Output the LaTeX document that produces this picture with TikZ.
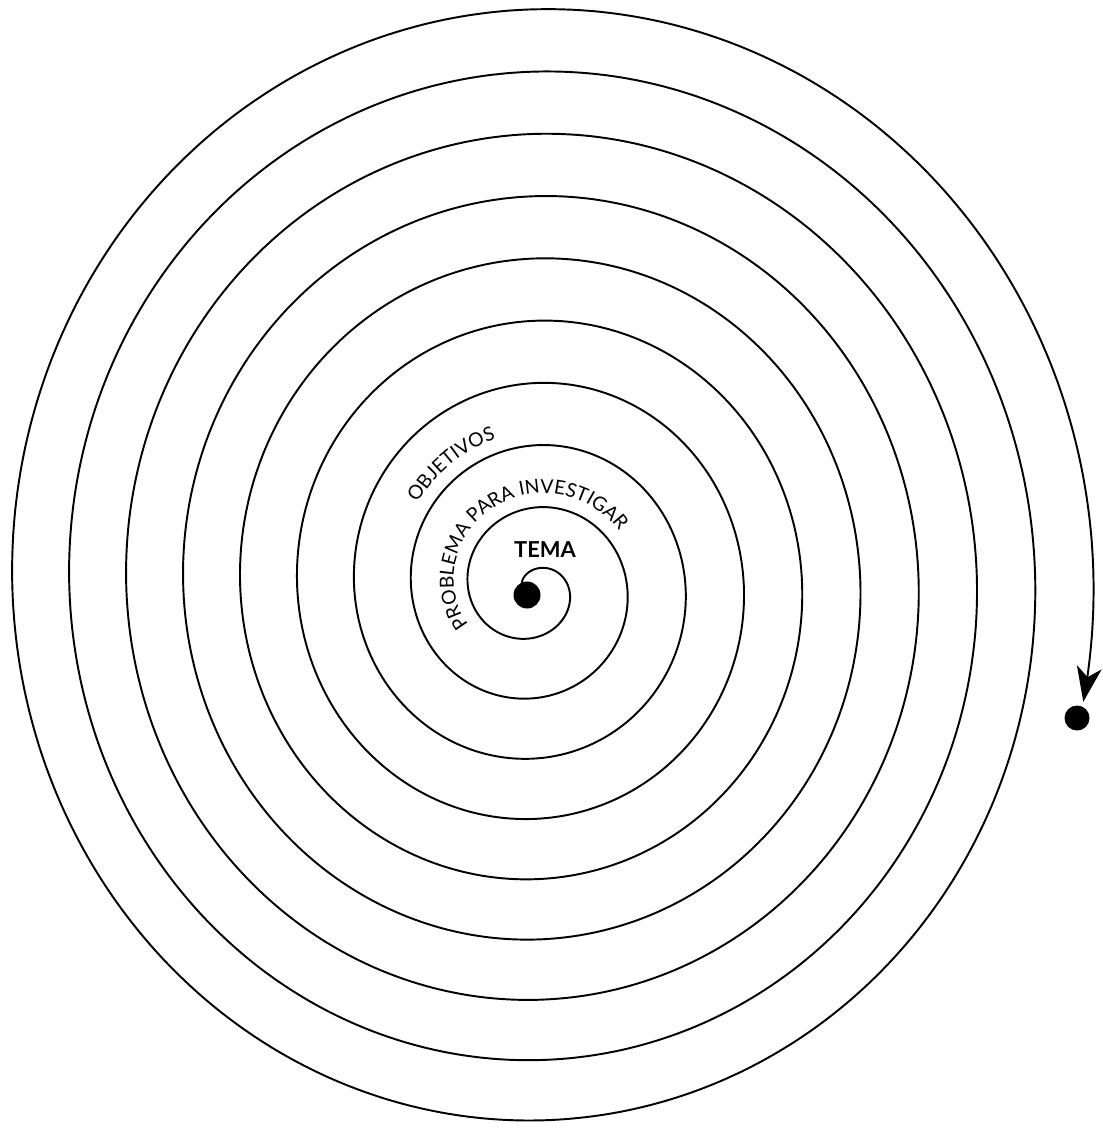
\documentclass[tikz,border=0pt]{standalone}
\usepackage{fontspec}
\setmainfont{Lato}
\usetikzlibrary{arrows.meta, decorations.text}

\begin{document}
\begin{tikzpicture}[x=0.02cm, y=-0.02cm, >=stealth,
  espiral/.style={line width=1.1pt},
  punto/.style={circle, fill, inner sep=0pt, minimum size=0.54cm},
  arco/.style={decorate, decoration={text along path, text align=center,
    text={|\fontsize{11}{13}\selectfont|#1}}}]
\useasboundingbox (0,0) rectangle (1102,1131);
% spiral, from the centre outwards
\draw[espiral, -{Stealth[length=0.7cm, width=0.5cm, inset=0.2cm]}]
  plot[domain=-80:3342, samples=1500, smooth, variable=\t]
  ({532.6+0.0018*\t+(21.8+0.1601*\t)*sin(\t)}, {588.9-0.00278*\t-(18.9+0.1703*\t)*cos(\t)});
% centre and end point
\node[punto] (tema) at (527,595) {};
\node[punto, minimum size=0.5cm] (fin) at (1077,718) {};
% labels
\node[font=\bfseries\fontsize{12.5}{14}\selectfont] (rotulo) at (545,550) {TEMA};
\path[arco={PROBLEMA PARA INVESTIGAR}]
  plot[domain=229:425, samples=50, variable=\t]
  ({532.6+0.0018*\t+(35.8+0.1601*\t)*sin(\t)}, {588.9-0.00278*\t-(32.9+0.1703*\t)*cos(\t)});
\path[arco={OBJETIVOS}]
  plot[domain=655:715, samples=20, variable=\t]
  ({532.6+0.0018*\t+(35.8+0.1601*\t)*sin(\t)}, {588.9-0.00278*\t-(32.9+0.1703*\t)*cos(\t)});
\end{tikzpicture}
\end{document}
